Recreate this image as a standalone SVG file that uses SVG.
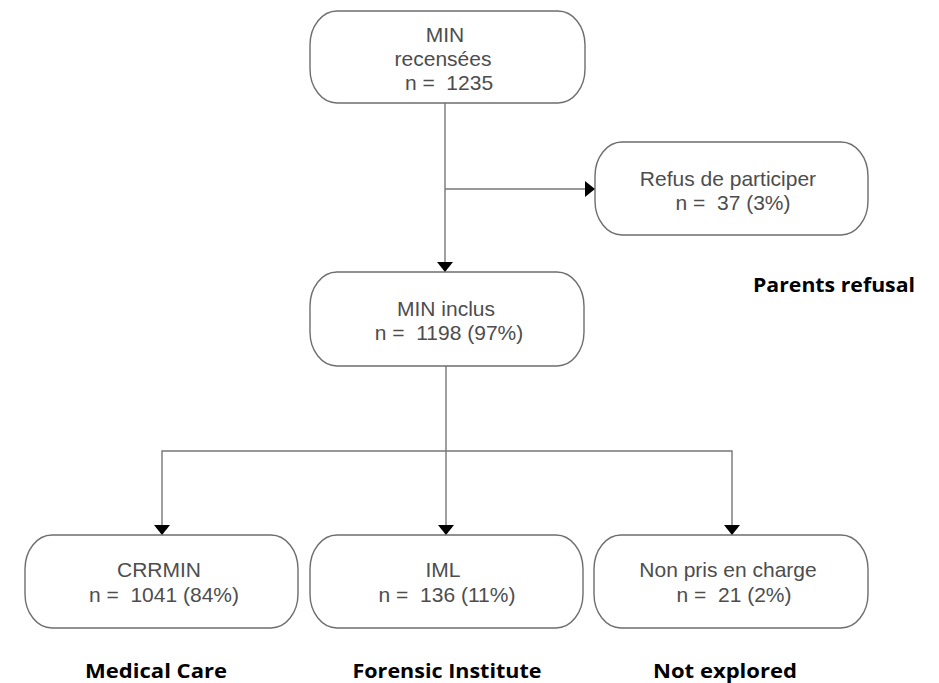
<svg xmlns="http://www.w3.org/2000/svg" width="939" height="683" viewBox="0 0 939 683">
<defs>
<style>
.box{fill:#fff;stroke:#6e6e6e;stroke-width:1.4}
.t{font-family:"Liberation Sans",Arial,sans-serif;font-size:21px;fill:#4d4d4d;text-anchor:middle;white-space:pre}
.lab{font-family:"Open Sans","Liberation Sans",sans-serif;font-weight:bold;font-size:20px;fill:#000;text-anchor:middle}
.c{fill:none;stroke:#777;stroke-width:1.4}
</style>
<marker id="ah" viewBox="0 0 10 10" refX="10" refY="5" markerWidth="10" markerHeight="16" markerUnits="userSpaceOnUse" orient="auto" preserveAspectRatio="none">
<path d="M0,0 L10,5 L0,10 Z" fill="#000"/>
</marker>
</defs>
<rect width="939" height="683" fill="#fff"/>
<g id="connectors">
<path class="c" d="M445,103 V272" marker-end="url(#ah)"/>
<path class="c" d="M445,189 H595" marker-end="url(#ah)"/>
<path class="c" d="M446,366 V535" marker-end="url(#ah)"/>
<path class="c" d="M446,451 H162 V535" marker-end="url(#ah)"/>
<path class="c" d="M446,451 H732 V535" marker-end="url(#ah)"/>
</g>
<g id="n-recensees">
<rect class="box" x="310" y="11" width="275" height="92" rx="27" ry="34"/>
<text class="t" x="445" y="42">MIN</text>
<text class="t" x="443" y="66">recensées</text>
<text class="t" x="449" y="90" xml:space="preserve">n =  1235</text>
</g>
<g id="n-refus">
<rect class="box" x="595" y="142" width="273" height="93" rx="27" ry="34"/>
<text class="t" x="728" y="186">Refus de participer</text>
<text class="t" x="733" y="210" xml:space="preserve">n =  37 (3%)</text>
</g>
<g id="n-inclus">
<rect class="box" x="310" y="272" width="274" height="94" rx="27" ry="34"/>
<text class="t" x="446" y="316">MIN inclus</text>
<text class="t" x="449" y="340" xml:space="preserve">n =  1198 (97%)</text>
</g>
<g id="n-crrmin">
<rect class="box" x="25" y="535" width="273" height="93" rx="27" ry="34"/>
<text class="t" x="159" y="577">CRRMIN</text>
<text class="t" x="164" y="602" xml:space="preserve">n =  1041 (84%)</text>
</g>
<g id="n-iml">
<rect class="box" x="310" y="535" width="273" height="93" rx="27" ry="34"/>
<text class="t" x="443" y="577">IML</text>
<text class="t" x="447" y="602" xml:space="preserve">n =  136 (11%)</text>
</g>
<g id="n-nonpris">
<rect class="box" x="594" y="535" width="274" height="93" rx="27" ry="34"/>
<text class="t" x="728" y="577">Non pris en charge</text>
<text class="t" x="734" y="602" xml:space="preserve">n =  21 (2%)</text>
</g>
<g id="labels">
<text class="lab" x="834" y="292" textLength="162" lengthAdjust="spacingAndGlyphs">Parents refusal</text>
<text class="lab" x="156" y="678" textLength="142" lengthAdjust="spacingAndGlyphs">Medical Care</text>
<text class="lab" x="447" y="678" textLength="189" lengthAdjust="spacingAndGlyphs">Forensic Institute</text>
<text class="lab" x="725" y="678" textLength="144" lengthAdjust="spacingAndGlyphs">Not explored</text>
</g>
</svg>
